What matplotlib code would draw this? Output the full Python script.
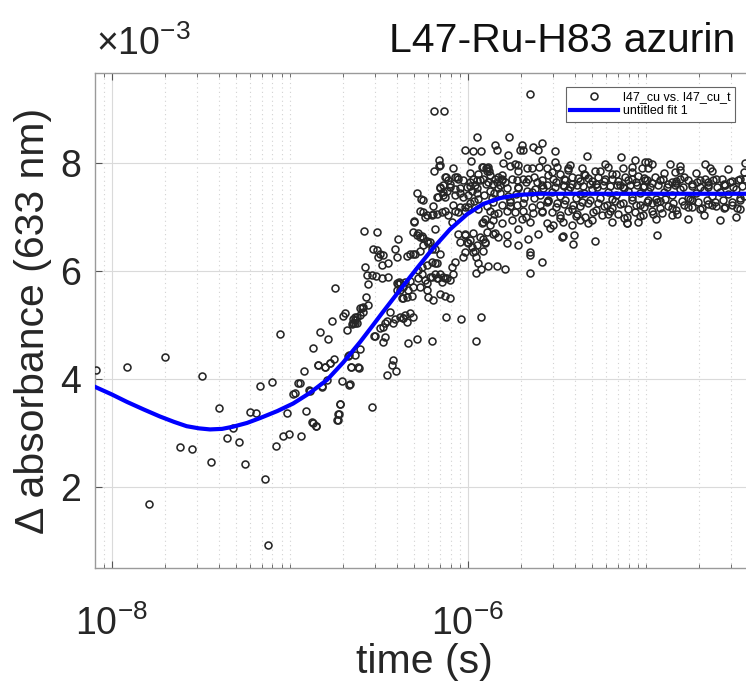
import numpy as np
import matplotlib
matplotlib.use('Agg')
import matplotlib.pyplot as plt
from matplotlib.ticker import FixedLocator, FixedFormatter, NullFormatter

plt.rcParams['font.family'] = ['Liberation Sans', 'DejaVu Sans']
plt.rcParams['mathtext.fontset'] = 'custom'
plt.rcParams['mathtext.rm'] = 'Liberation Sans'
plt.rcParams['mathtext.it'] = 'Liberation Sans:italic'
plt.rcParams['mathtext.default'] = 'regular'

# measured points: log10(time / s) and delta absorbance in units of 1e-3
early_log_t = [-8.088, -7.916, -7.790, -7.699, -7.616, -7.551, -7.491, -7.444, -7.396, -7.354,
               -7.317, -7.283, -7.249, -7.223, -7.191, -7.167, -7.140, -7.120, -7.098, -7.077,
               -7.056, -7.036, -7.015, -7.002, -6.980, -6.969, -6.952, -6.942, -6.935, -6.918,
               -6.907, -6.890, -6.886, -6.876, -6.871, -6.867, -6.854, -6.854, -6.841, -6.839,
               -6.830, -6.819, -6.817, -6.802, -6.802, -6.792, -6.785, -6.774, -6.774, -6.764,
               -6.751, -6.746, -6.734, -6.727, -6.727, -6.725, -6.717, -6.716, -6.708, -6.699,
               -6.689, -6.680, -6.671, -6.669, -6.665, -6.661, -6.657, -6.656, -6.652, -6.646,
               -6.643, -6.633, -6.633, -6.631, -6.624, -6.624, -6.618, -6.611, -6.605, -6.605]
early_dA = [4.17, 4.22, 1.67, 4.41, 2.74, 2.69, 4.06, 2.45, 3.46, 2.91,
            3.08, 2.83, 2.41, 3.39, 3.37, 3.87, 2.14, 0.91, 3.94, 2.76,
            4.83, 2.94, 3.36, 2.97, 3.71, 3.73, 3.93, 3.93, 2.94, 4.15,
            3.40, 3.79, 3.78, 3.19, 3.17, 4.57, 3.13, 3.12, 4.25, 4.25,
            4.87, 3.86, 3.85, 4.22, 4.21, 3.97, 4.74, 4.29, 4.30, 5.07,
            4.36, 5.68, 3.24, 3.34, 3.24, 3.35, 3.53, 3.53, 3.96, 5.16,
            5.22, 4.91, 4.42, 4.44, 3.88, 3.90, 4.21, 4.22, 5.01, 5.03,
            5.10, 5.09, 5.04, 4.44, 5.15, 5.03, 4.22, 4.19, 5.31, 4.56]

rise_log_t = [-6.596, -6.590, -6.583, -6.577, -6.571, -6.567, -6.562, -6.558, -6.539, -6.539,
              -6.530, -6.526, -6.515, -6.511, -6.508, -6.502, -6.493, -6.493, -6.483, -6.483,
              -6.478, -6.474, -6.465, -6.465, -6.452, -6.446, -6.446, -6.437, -6.427, -6.418,
              -6.408, -6.403, -6.399, -6.399, -6.393, -6.386, -6.380, -6.380, -6.371, -6.362,
              -6.352, -6.343, -6.343, -6.334, -6.324, -6.324, -6.306, -6.306, -6.302, -6.296,
              -6.287, -6.287, -6.287, -6.278, -6.268, -6.268, -6.268, -6.268, -6.258, -6.249,
              -6.249, -6.249, -6.240, -6.230, -6.230, -6.230, -6.230, -6.230, -6.221, -6.221,
              -6.212, -6.212, -6.202, -6.202, -6.202, -6.202, -6.199, -6.193, -6.193, -6.193,
              -6.189, -6.189, -6.184, -6.184, -6.184, -6.184, -6.174, -6.174, -6.174, -6.171,
              -6.165, -6.165, -6.163, -6.160, -6.156, -6.156, -6.156, -6.156, -6.156, -6.156,
              -6.146, -6.146, -6.137, -6.137, -6.137, -6.137, -6.128, -6.128, -6.128, -6.128,
              -6.128, -6.124,
              -6.587, -6.605, -6.633, -6.643, -6.521, -6.455, -6.421, -6.408, -6.380, -6.365,
              -6.352, -6.324, -6.306, -6.399, -6.362, -6.334, -6.306, -6.390, -6.362, -6.343,
              -6.315, -6.300, -6.262, -6.249, -6.278, -6.258, -6.278, -6.258, -6.240, -6.474]
rise_dA = [5.31, 5.24, 6.74, 6.07, 5.51, 5.92, 5.75, 5.36, 3.47, 5.92,
           6.41, 4.80, 5.90, 6.72, 6.38, 6.25, 4.94, 6.31, 6.11, 5.87,
           6.29, 4.69, 5.03, 4.78, 4.07, 6.15, 5.89, 5.24, 4.25, 4.35,
           6.40, 4.15, 6.25, 5.77, 6.60, 5.80, 5.64, 5.78, 5.49, 5.12,
           5.80, 6.27, 5.06, 4.67, 6.32, 5.81, 6.31, 6.72, 6.92, 6.31,
           6.66, 7.45, 4.73, 5.86, 6.62, 7.11, 6.36, 5.70, 6.07, 6.61,
           7.32, 6.48, 7.00, 6.56, 6.11, 5.77, 7.03, 5.64, 6.51, 5.52,
           6.54, 5.89, 6.41, 6.17, 5.89, 7.03, 4.70, 7.05, 5.46, 7.20,
           7.86, 8.96, 6.77, 6.14, 5.95, 6.41, 5.86, 6.14, 7.37, 7.06,
           7.37, 5.86, 8.05, 7.94, 7.96, 7.56, 5.58, 5.95, 6.32, 7.53,
           5.80, 7.09, 7.46, 5.89, 7.59, 7.40, 7.37, 5.86, 5.54, 7.74,
           7.12, 5.15,
           5.33, 5.18, 5.14, 5.03, 4.80, 5.07, 5.03, 5.10, 5.15, 5.12,
           5.18, 5.21, 5.15, 5.64, 5.70, 5.64, 5.70, 5.75, 5.49, 5.52,
           5.53, 6.91, 7.33, 7.09, 6.70, 6.64, 6.01, 5.95, 5.83, 4.96]

late_log_t = [-6.122, -6.118, -6.118, -6.109, -6.109, -6.100, -6.100, -6.100, -6.100, -6.090,
              -6.090, -6.081, -6.081, -6.081, -6.071, -6.071, -6.071, -6.071, -6.071, -6.062,
              -6.053, -6.053, -6.053, -6.043, -6.043, -6.043, -6.043, -6.036, -6.025, -6.025,
              -6.025, -6.015, -6.015, -6.015, -6.015, -6.015, -6.015, -6.006, -6.006, -5.997,
              -5.997, -5.997, -5.987, -5.987, -5.987, -5.983, -5.978, -5.978, -5.969, -5.969,
              -5.969, -5.969, -5.959, -5.959, -5.953, -5.953, -5.953, -5.949, -5.949, -5.949,
              -5.949, -5.946, -5.940, -5.940, -5.931, -5.931, -5.927, -5.925, -5.925, -5.921,
              -5.921, -5.912, -5.912, -5.912, -5.912, -5.912, -5.903, -5.903, -5.903, -5.893,
              -5.893, -5.893, -5.884, -5.884, -5.884, -5.879, -5.875, -5.875, -5.875, -5.875,
              -5.856, -5.856, -5.856, -5.856, -5.847, -5.847, -5.847, -5.837, -5.837, -5.834,
              -5.828, -5.828, -5.828, -5.828, -5.819, -5.809, -5.809, -5.809, -5.800, -5.791,
              -5.790, -5.781, -5.781, -5.781, -5.781, -5.772, -5.768, -5.762, -5.762, -5.753,
              -5.753, -5.734, -5.734, -5.725, -5.725, -5.716, -5.716, -5.716, -5.716, -5.706,
              -5.697, -5.697, -5.688, -5.688, -5.688, -5.688, -5.669, -5.669, -5.660, -5.660,
              -5.650, -5.650, -5.650, -5.650, -5.650, -5.640, -5.640, -5.631, -5.631, -5.622,
              -5.612, -5.607, -5.603, -5.598, -5.594, -5.584, -5.584, -5.584, -5.581, -5.581,
              -5.575, -5.556, -5.556, -6.133, -5.907, -5.862, -5.818, -5.773, -5.728, -5.684,
              -5.639, -5.594, -5.965, -5.890,
              -5.987, -5.942, -5.897, -5.852, -5.807, -5.762, -5.717, -5.672, -5.627, -5.582,
              -5.987, -5.942, -5.897, -5.852, -5.807, -5.762, -5.717, -5.672, -5.627, -5.582]
late_dA = [7.74, 7.49, 5.86, 7.68, 7.03, 7.62, 7.56, 5.83, 5.49, 6.91,
           6.07, 7.90, 7.22, 5.95, 7.74, 7.51, 7.12, 6.17, 7.40, 7.75,
           7.71, 7.09, 6.69, 7.53, 7.44, 7.19, 6.54, 5.11, 7.68, 7.37,
           6.26, 8.25, 7.19, 7.12, 6.66, 6.69, 6.35, 7.56, 6.54, 7.40,
           7.19, 6.51, 7.65, 7.25, 6.57, 8.03, 7.49, 6.44, 8.22, 7.71,
           6.71, 6.35, 7.59, 6.36, 6.26, 5.97, 4.70, 7.68, 7.53, 7.44,
           6.48, 8.48, 7.80, 6.15, 7.68, 6.63, 8.22, 6.03, 5.14, 7.92,
           6.88, 7.71, 7.93, 6.91, 6.60, 6.36, 6.97, 6.52, 6.54, 7.91,
           7.86, 6.72, 7.65, 7.92, 6.09, 7.86, 7.49, 7.77, 7.12, 6.85,
           7.62, 7.28, 6.94, 6.69, 8.33, 7.71, 6.71, 7.65, 6.09, 8.25,
           7.74, 7.53, 7.08, 6.63, 7.59, 7.68, 7.22, 6.88, 8.01, 7.65,
           6.03, 7.54, 7.12, 6.66, 6.51, 8.14, 8.49, 7.94, 7.31, 7.71,
           6.94, 7.99, 7.09, 7.68, 7.22, 7.96, 7.53, 6.77, 6.48, 8.25,
           8.34, 6.97, 8.24, 7.71, 7.25, 7.12, 7.90, 7.49, 7.71, 6.60,
           9.28, 6.91, 6.35, 5.96, 6.29, 7.91, 7.19, 8.30, 7.08, 7.51,
           7.65, 8.25, 6.69, 7.93, 7.22, 8.05, 7.68, 7.10, 8.38, 6.17,
           7.53, 7.90, 7.28, 8.96, 7.40, 7.35, 7.45, 7.38, 7.42, 7.36,
           7.47, 7.40, 7.30, 7.20,
           7.58, 7.33, 7.62, 7.45, 7.70, 7.28, 7.55, 7.64, 7.36, 7.60,
           7.82, 7.15, 7.90, 7.05, 7.78, 7.20, 7.86, 7.00, 7.75, 7.12]

plateau_log_t = [-5.509, -5.331, -5.139, -5.060, -5.004,
                 -5.509, -5.500, -5.426, -5.435, -5.360, -5.285, -5.229, -5.210, -5.126, -5.079, -5.023,
                 -5.547, -5.519, -5.481, -5.453, -5.416, -5.379, -5.341, -5.303, -5.266, -5.229,
                 -5.191, -5.154, -5.116, -5.079, -5.042, -5.004,
                 -5.556, -5.509, -5.463, -5.426, -5.388, -5.351, -5.313, -5.275, -5.238, -5.201,
                 -5.163, -5.126, -5.088, -5.051, -5.013,
                 -5.547, -5.500, -5.453, -5.407, -5.360, -5.313, -5.266, -5.219, -5.172, -5.126,
                 -5.079, -5.032, -4.994,
                 -5.528, -5.481, -5.435, -5.388, -5.341, -5.294, -5.247, -5.201, -5.154, -5.107,
                 -5.060, -5.013,
                 -5.519, -5.463, -5.416, -5.369, -5.322, -5.191, -5.107, -5.042,
                 -5.463, -5.401, -5.407, -5.285, -5.107, -5.556, -5.538, -5.472,
                 -4.985, -4.963, -4.863, -4.807, -4.667, -4.639, -4.835, -4.442,
                 -4.994, -4.948, -4.901, -4.854, -4.807, -4.761, -4.713, -4.667, -4.620, -4.573,
                 -4.526, -4.480, -4.442,
                 -4.976, -4.929, -4.882, -4.835, -4.789, -4.742, -4.695, -4.648, -4.601, -4.554,
                 -4.508, -4.461,
                 -4.985, -4.938, -4.892, -4.845, -4.798, -4.751, -4.705, -4.657, -4.611, -4.564,
                 -4.517, -4.471,
                 -4.966, -4.910, -4.854, -4.826, -4.761, -4.685, -4.629, -4.554, -4.489,
                 -4.938, -4.957,
                 -5.526, -5.481, -5.437, -5.392, -5.347, -5.302, -5.257, -5.212, -5.167, -5.122,
                 -5.077, -5.032, -4.987, -4.942, -4.897, -4.852, -4.807, -4.762, -4.717, -4.672,
                 -4.627, -4.583, -4.538, -4.493, -4.448,
                 -5.548, -5.459, -5.369, -5.279, -5.189, -5.100, -5.010, -4.920, -4.830, -4.740,
                 -4.650, -4.560, -4.470,
                 -5.504, -5.459, -5.414, -5.369, -5.324, -5.279, -5.234, -5.189, -5.145, -5.100,
                 -5.055, -5.010, -4.965, -4.920, -4.875, -4.830, -4.785, -4.740, -4.695, -4.650,
                 -4.605, -4.560, -4.516, -4.471,
                 -5.504, -5.459, -5.414, -5.369, -5.324, -5.279, -5.234, -5.189, -5.145, -5.100,
                 -5.055, -5.010, -4.965, -4.920, -4.875, -4.830, -4.785, -4.740, -4.695, -4.650,
                 -4.605, -4.560, -4.516, -4.471,
                 -5.526, -5.481, -5.437, -5.392, -5.347, -5.302, -5.257, -5.212, -5.167, -5.122,
                 -5.077, -5.032, -4.987, -4.942, -4.897, -4.852, -4.807, -4.762, -4.717, -4.672,
                 -4.627, -4.583, -4.538, -4.493, -4.448]
plateau_dA = [8.22, 8.13, 8.11, 8.05, 8.02,
              8.02, 7.93, 7.96, 7.90, 7.90, 7.86, 7.99, 7.93, 7.90, 7.93, 7.90,
              7.77, 7.71, 7.80, 7.68, 7.74, 7.72, 7.78, 7.66, 7.75, 7.70,
              7.79, 7.67, 7.74, 7.71, 7.76, 7.69,
              7.59, 7.56, 7.60, 7.56, 7.60, 7.58, 7.62, 7.56, 7.60, 7.58,
              7.60, 7.56, 7.59, 7.60, 7.56,
              7.31, 7.25, 7.31, 7.22, 7.28, 7.31, 7.25, 7.22, 7.29, 7.25,
              7.31, 7.22, 7.28,
              7.09, 7.03, 7.12, 7.06, 7.00, 7.10, 7.04, 7.12, 7.06, 7.00,
              7.10, 7.04,
              6.85, 6.91, 6.85, 6.94, 6.88, 6.91, 6.88, 6.91,
              6.64, 6.67, 6.49, 6.56, 6.89, 6.88, 6.80, 6.63,
              8.02, 7.99, 7.99, 7.94, 7.99, 7.90, 7.83, 8.01,
              7.68, 7.74, 7.71, 7.65, 7.71, 7.68, 7.65, 7.71, 7.68, 7.71,
              7.65, 7.68, 7.71,
              7.56, 7.59, 7.56, 7.60, 7.56, 7.58, 7.56, 7.59, 7.56, 7.59,
              7.56, 7.58,
              7.31, 7.28, 7.34, 7.25, 7.29, 7.34, 7.27, 7.31, 7.28, 7.31,
              7.27, 7.31,
              7.12, 7.08, 7.16, 7.06, 7.19, 7.16, 7.22, 7.19, 7.16,
              6.67, 7.06,
              7.47, 7.38, 7.50, 7.35, 7.44, 7.52, 7.36, 7.46, 7.40, 7.53,
              7.37, 7.45, 7.49, 7.34, 7.47, 7.41, 7.52, 7.36, 7.44, 7.50,
              7.38, 7.46, 7.42, 7.51, 7.39,
              7.30, 7.58, 7.42, 7.62, 7.33, 7.48, 7.57, 7.30, 7.63, 7.32,
              7.55, 7.61, 7.35,
              7.18, 7.24, 7.15, 7.21, 7.26, 7.13, 7.20, 7.17, 7.24, 7.14,
              7.22, 7.19, 7.25, 7.16, 7.21, 7.13, 7.23, 7.18, 7.15, 7.24,
              7.20, 7.17, 7.22, 7.14,
              7.64, 7.70, 7.61, 7.67, 7.73, 7.62, 7.66, 7.71, 7.60, 7.68,
              7.65, 7.72, 7.63, 7.69, 7.61, 7.66, 7.74, 7.62, 7.68, 7.64,
              7.70, 7.60, 7.67, 7.71,
              7.83, 6.98, 7.88, 7.02, 7.80, 6.95, 7.86, 7.05, 7.79, 6.99,
              7.84, 7.01, 7.90, 6.97, 7.82, 7.04, 7.87, 6.96, 7.81, 7.03,
              7.85, 6.94, 7.89, 7.00, 7.83]

# fitted curve
fit_log_t = [-8.094, -8.00, -7.914, -7.82, -7.729, -7.65, -7.579, -7.51, -7.448, -7.38,
             -7.319, -7.24, -7.167, -7.07, -6.981, -6.89, -6.790, -6.70, -6.605, -6.54,
             -6.476, -6.380, -6.285, -6.195, -6.100, -6.004, -5.914, -5.819, -5.715, -5.60,
             -5.30, -4.397]
fit_dA = [3.85, 3.71, 3.57, 3.43, 3.30, 3.20, 3.12, 3.08, 3.06, 3.07,
          3.11, 3.18, 3.27, 3.40, 3.54, 3.73, 3.98, 4.30, 4.68, 4.96,
          5.24, 5.65, 6.05, 6.42, 6.77, 7.05, 7.24, 7.35, 7.41, 7.43,
          7.43, 7.43]

obs_t = 10.0 ** np.array(early_log_t + rise_log_t + late_log_t + plateau_log_t)
obs_y = np.array(early_dA + rise_dA + late_dA + plateau_dA) * 1e-3
fit_t = 10.0 ** np.array(fit_log_t)
fit_y = np.array(fit_dA) * 1e-3

W, H = 746, 692
fig = plt.figure(figsize=(W / 100, H / 100), dpi=100)
ax = fig.add_axes([95 / W, (H - 568) / H, (753 - 95) / W, (568 - 73) / H])

ax.plot(obs_t, obs_y, 'o', ms=5, mfc='none', mec='#262626', mew=1.15,
        label='l47_cu vs. l47_cu_t', zorder=3)
ax.plot(fit_t, fit_y, color=(0, 0, 1), lw=3, label='untitled fit 1', zorder=4)

ax.set_xscale('log')
ax.set_xlim(8.06e-9, 4.0e-5)
ax.set_ylim(0.49e-3, 9.67e-3)

majors = [1e-8, 1e-6, 1e-4]
minors = [k * 10.0 ** e for e in range(-9, -4) for k in range(1, 10)
          if k * 10.0 ** e not in majors]
ax.xaxis.set_major_locator(FixedLocator(majors))
ax.xaxis.set_major_formatter(FixedFormatter([r'$10^{-8}$', r'$10^{-6}$', r'$10^{-4}$']))
ax.xaxis.set_minor_locator(FixedLocator(minors))
ax.xaxis.set_minor_formatter(NullFormatter())
ax.set_yticks([2e-3, 4e-3, 6e-3, 8e-3])
ax.set_yticklabels(['2', '4', '6', '8'])

ax.tick_params(which='both', direction='in', top=True, right=True,
               color='#555555', labelcolor='#262626', labelsize=27)
ax.tick_params(which='major', length=5, width=0.8)
ax.tick_params(which='minor', length=3, width=0.6)
ax.tick_params(axis='x', pad=27)
ax.tick_params(axis='y', pad=10)

ax.grid(which='major', color='#dadada', lw=0.8, ls='-')
ax.grid(which='minor', axis='x', color='#d2d2d2', lw=0.8, ls=(0, (1, 3)))
ax.set_axisbelow(True)

for s in ax.spines.values():
    s.set_color('#9a9a9a')
    s.set_linewidth(1.0)

ax.set_xlabel('time (s)', fontsize=29.5, color='#262626', labelpad=0)
ax.set_ylabel('Δ absorbance (633 nm)', fontsize=29.5, color='#262626', labelpad=6)

fig.text(96 / W, 1 - 55 / H, r'$\times10^{-3}$', fontsize=27, color='#262626',
         ha='left', va='baseline')
fig.text(735 / W, 1 - 41 / H, 'L47-Ru-H83 azurin', fontsize=29.5, color='#111111',
         ha='right', va='center')

leg = ax.legend(loc='upper right', bbox_to_anchor=(0.9726, 0.9717), fontsize=9,
                frameon=True, fancybox=False, edgecolor='#666666', framealpha=1,
                borderpad=0.35, handlelength=3.8, handletextpad=0.4, labelspacing=0.15,
                numpoints=1, borderaxespad=0)
leg.get_frame().set_linewidth(0.8)

fig.savefig('out.png', dpi=100)
